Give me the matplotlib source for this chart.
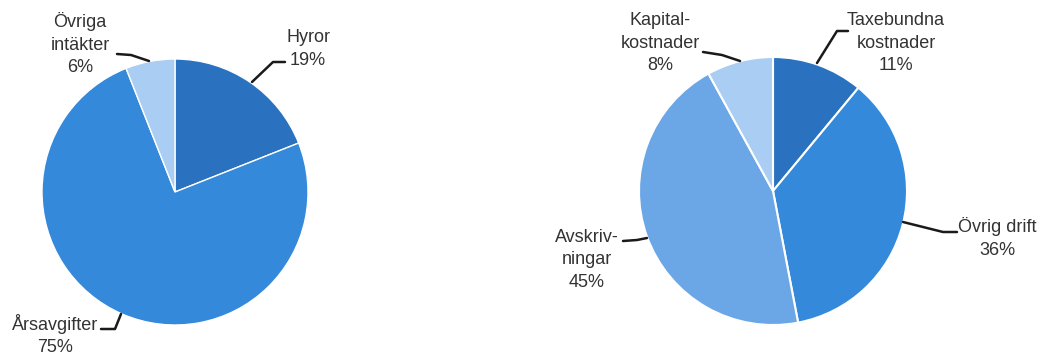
import numpy as np
import matplotlib
matplotlib.use('Agg')
import matplotlib.pyplot as plt

plt.rcParams['font.family'] = ['Liberation Sans', 'DejaVu Sans']

W, H = 1045, 358

# left pie: intakter
inc_labels = ['Hyror', 'Årsavgifter', 'Övriga\nintäkter']
inc_values = [19, 75, 6]
inc_colors = ['#2a72c0', '#3489da', '#a9cdf3']

# right pie: kostnader
cost_labels = ['Taxebundna\nkostnader', 'Övrig drift', 'Avskriv-\nningar', 'Kapital-\nkostnader']
cost_values = [11, 36, 45, 8]
cost_colors = ['#2a72c0', '#3489da', '#6ba6e6', '#a9cdf3']

fig = plt.figure(figsize=(W / 100, H / 100), dpi=100)
ax = fig.add_axes([0, 0, 1, 1])


def py(y):
    # pixel row -> data y
    return H - y


ax.pie(inc_values, colors=inc_colors, startangle=90, counterclock=False,
       center=(175, py(192)), radius=133,
       wedgeprops=dict(edgecolor='white', linewidth=1.0))
ax.pie(cost_values, colors=cost_colors, startangle=90, counterclock=False,
       center=(773, py(191)), radius=134,
       wedgeprops=dict(edgecolor='white', linewidth=1.5))

# pie() resets the limits, so set them afterwards
ax.set_xlim(0, W)
ax.set_ylim(0, H)
ax.set_aspect('equal')
ax.axis('off')

# label text position (px) and leader polyline (px)
inc_pos = [(308, 49), (55, 335), (80, 44)]
inc_lead = [
    [(285, 62), (273, 62), (252, 82)],
    [(101, 329), (115, 329), (121, 314)],
    [(117, 54), (131, 55), (149, 61)],
]
cost_pos = [(896, 43), (997, 238), (587, 260), (660, 43)]
cost_lead = [
    [(848, 31), (837, 31), (817, 63)],
    [(957, 232), (943, 232), (903, 222)],
    [(623, 241), (637, 240), (647, 238)],
    [(703, 52), (722, 55), (740, 61)],
]


def put_labels(labels, values, pos, leads):
    for lab, v, (x, y), pts in zip(labels, values, pos, leads):
        ax.text(x, py(y), '%s\n%d%%' % (lab, v), ha='center', va='center',
                fontsize=13, color='#333333', linespacing=1.4)
        xs = [p[0] for p in pts]
        ys = [py(p[1]) for p in pts]
        ax.plot(xs, ys, color='#1a1a1a', lw=1.8, solid_capstyle='round')


put_labels(inc_labels, inc_values, inc_pos, inc_lead)
put_labels(cost_labels, cost_values, cost_pos, cost_lead)

plt.savefig('out.png', dpi=100)
